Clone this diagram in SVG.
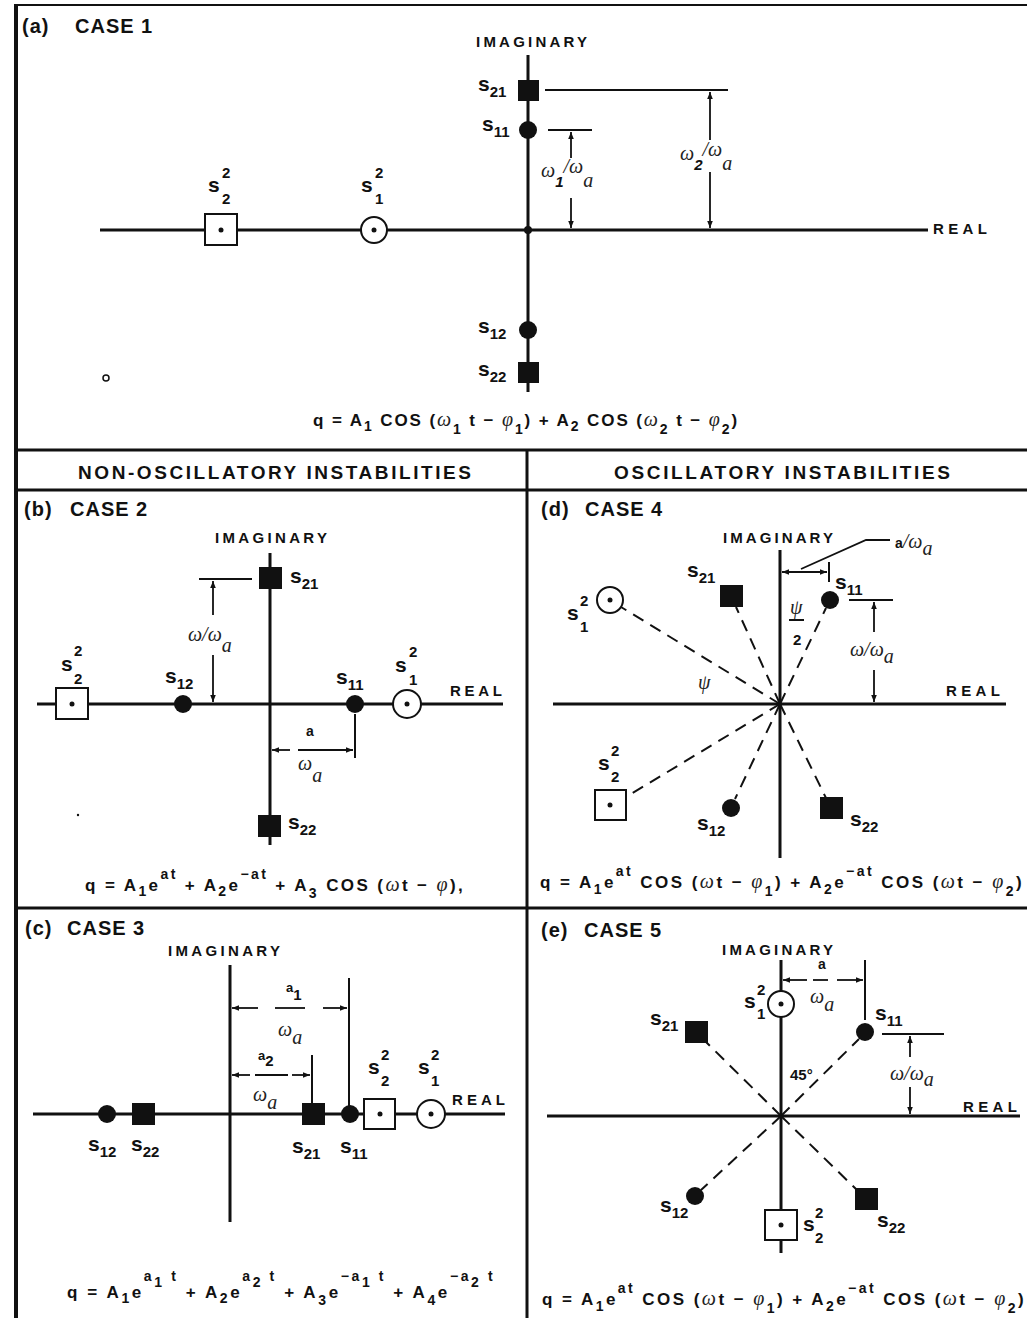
<svg xmlns="http://www.w3.org/2000/svg" width="1027" height="1318" viewBox="0 0 1027 1318">
<style>
.f{font-family:"Liberation Sans",Arial,sans-serif;font-weight:bold;fill:#111}
.ti{font-size:20px;letter-spacing:1px}
.hd{font-size:19px}
.ax{font-size:15px}
.ps{font-size:21px}
.pd{font-size:15px}
.g{font-family:"Liberation Serif","DejaVu Serif",serif;font-style:italic;font-weight:normal;font-size:20px;fill:#222}
.eq{font-size:17px}
.es{font-size:14px}
.ln{stroke:#111;stroke-width:3;fill:none}
.th{stroke:#111;stroke-width:2;fill:none}
.dm{stroke:#111;stroke-width:1.8;fill:none}
.da{stroke:#111;stroke-width:2;fill:none;stroke-dasharray:12 8}
.fl{fill:#111}
.op{fill:#fff;stroke:#111;stroke-width:2}
</style>
<defs>
<marker id="ah" viewBox="0 0 10 10" refX="10" refY="5" markerWidth="7" markerHeight="7" markerUnits="userSpaceOnUse" orient="auto-start-reverse"><path d="M0,1 L10,5 L0,9 z" fill="#111"/></marker>
</defs>
<rect width="1027" height="1318" fill="#fff"/>

<g id="frame">
<line class="th" x1="15" y1="5" x2="1027" y2="5"/>
<line x1="16" y1="4" x2="16" y2="1318" stroke="#111" stroke-width="4"/>
<line class="ln" x1="15" y1="450" x2="1027" y2="450"/>
<line class="ln" x1="15" y1="490" x2="1027" y2="490"/>
<line class="ln" x1="527" y1="450" x2="527" y2="1318"/>
<line class="ln" x1="15" y1="908" x2="1027" y2="908"/>
</g>

<g id="titles">
<text class="f ti" x="22" y="33">(a)<tspan x="75">CASE 1</tspan></text>
<text class="f hd" x="78" y="479" textLength="393" lengthAdjust="spacing">NON-OSCILLATORY INSTABILITIES</text>
<text class="f hd" x="614" y="479" textLength="336" lengthAdjust="spacing">OSCILLATORY INSTABILITIES</text>
<text class="f ti" x="24" y="516">(b)<tspan x="70">CASE 2</tspan></text>
<text class="f ti" x="25" y="935">(c)<tspan x="67">CASE 3</tspan></text>
<text class="f ti" x="541" y="516">(d)<tspan x="585">CASE 4</tspan></text>
<text class="f ti" x="541" y="937">(e)<tspan x="584">CASE 5</tspan></text>
</g>

<!-- ================= PANEL A ================= -->
<g id="a-connectors">
<line class="ln" x1="528" y1="55" x2="528" y2="392"/>
<line class="ln" x1="100" y1="230" x2="928" y2="230"/>
<circle cx="528" cy="230" r="4" class="fl"/>
<line class="th" x1="545" y1="90" x2="728" y2="90"/>
<line class="th" x1="548" y1="130" x2="592" y2="130"/>
<line class="dm" x1="571" y1="158" x2="571" y2="132" marker-end="url(#ah)"/>
<line class="dm" x1="571" y1="198" x2="571" y2="228" marker-end="url(#ah)"/>
<line class="dm" x1="710" y1="140" x2="710" y2="92" marker-end="url(#ah)"/>
<line class="dm" x1="710" y1="172" x2="710" y2="228" marker-end="url(#ah)"/>
</g>
<g id="a-labels">
<text class="f ax" x="476" y="47" textLength="111" lengthAdjust="spacing">IMAGINARY</text>
<text class="f ax" x="933" y="234" textLength="54" lengthAdjust="spacing">REAL</text>
<text class="g" x="541" y="177">ω<tspan class="f pd" dy="10">1</tspan><tspan dy="-14">/ω</tspan><tspan dy="14">a</tspan></text>
<text class="g" x="680" y="160">ω<tspan class="f pd" dy="10">2</tspan><tspan dy="-14">/ω</tspan><tspan dy="14">a</tspan></text>
<text class="f eq" x="313" y="426" style="letter-spacing:1.9px">q = A<tspan class="es" dy="5">1</tspan><tspan dy="-5"> COS (</tspan><tspan class="g">ω</tspan><tspan class="es" dy="8">1</tspan><tspan dy="-8"> t − </tspan><tspan class="g">φ</tspan><tspan class="es" dy="8">1</tspan><tspan dy="-8">) + A</tspan><tspan class="es" dy="5">2</tspan><tspan dy="-5"> COS (</tspan><tspan class="g">ω</tspan><tspan class="es" dy="8">2</tspan><tspan dy="-8"> t − </tspan><tspan class="g">φ</tspan><tspan class="es" dy="8">2</tspan><tspan dy="-8">)</tspan></text>
</g>
<g id="a-s21"><rect class="fl" x="518" y="80" width="21" height="21"/><text class="f ps" x="478" y="91">s<tspan class="pd" dy="6">21</tspan></text></g>
<g id="a-s11"><circle class="fl" cx="528" cy="130" r="9"/><text class="f ps" x="482" y="131">s<tspan class="pd" dy="6">11</tspan></text></g>
<g id="a-s12"><circle class="fl" cx="528" cy="330" r="9"/><text class="f ps" x="478" y="333">s<tspan class="pd" dy="6">12</tspan></text></g>
<g id="a-s22"><rect class="fl" x="518" y="362" width="21" height="21"/><text class="f ps" x="478" y="376">s<tspan class="pd" dy="6">22</tspan></text></g>
<g id="a-s2sq"><rect class="op" x="205" y="214" width="32" height="31"/><circle class="fl" cx="221" cy="230" r="2.5"/><text class="f ps" x="208" y="192">s<tspan class="pd" x="222" y="178">2</tspan><tspan class="pd" x="222" y="204">2</tspan></text></g>
<g id="a-s1sq"><circle class="op" cx="374" cy="230" r="13"/><circle class="fl" cx="374" cy="230" r="2.5"/><text class="f ps" x="361" y="192">s<tspan class="pd" x="375" y="178">2</tspan><tspan class="pd" x="375" y="204">1</tspan></text></g>
<circle cx="106" cy="378" r="3" fill="none" stroke="#111" stroke-width="1.5"/>

<!-- ================= PANEL B ================= -->
<g id="b-connectors">
<line class="ln" x1="270" y1="553" x2="270" y2="845"/>
<line class="ln" x1="37" y1="704" x2="503" y2="704"/>
<line class="th" x1="199" y1="579" x2="252" y2="579"/>
<line class="dm" x1="213" y1="615" x2="213" y2="581" marker-end="url(#ah)"/>
<line class="dm" x1="213" y1="655" x2="213" y2="702" marker-end="url(#ah)"/>
<line class="th" x1="355" y1="714" x2="355" y2="758"/>
<line class="dm" x1="290" y1="750" x2="272" y2="750" marker-end="url(#ah)"/>
<line class="dm" x1="298" y1="750" x2="353" y2="750" marker-end="url(#ah)"/>
</g>
<g id="b-labels">
<text class="f ax" x="215" y="543" textLength="112" lengthAdjust="spacing">IMAGINARY</text>
<text class="f ax" x="450" y="696" textLength="52" lengthAdjust="spacing">REAL</text>
<text class="g" x="188" y="641">ω/ω<tspan dy="11">a</tspan></text>
<text class="f" x="306" y="736" font-size="14">a</text>
<text class="g" x="298" y="770">ω<tspan dy="12">a</tspan></text>
<text class="f eq" x="85" y="891" style="letter-spacing:2.4px">q = A<tspan class="es" dy="5">1</tspan><tspan dy="-5">e</tspan><tspan class="es" dy="-12">at</tspan><tspan dy="12"> + A</tspan><tspan class="es" dy="5">2</tspan><tspan dy="-5">e</tspan><tspan class="es" dy="-12">−at</tspan><tspan dy="12"> + A</tspan><tspan class="es" dy="7">3</tspan><tspan dy="-7"> COS (</tspan><tspan class="g">ω</tspan><tspan>t − </tspan><tspan class="g">φ</tspan><tspan>),</tspan></text>
</g>
<g id="b-s21"><rect class="fl" x="259" y="567" width="23" height="22"/><text class="f ps" x="290" y="583">s<tspan class="pd" dy="6">21</tspan></text></g>
<g id="b-s22"><rect class="fl" x="258" y="815" width="23" height="22"/><text class="f ps" x="288" y="829">s<tspan class="pd" dy="6">22</tspan></text></g>
<g id="b-s12"><circle class="fl" cx="183" cy="704" r="9"/><text class="f ps" x="165" y="683">s<tspan class="pd" dy="6">12</tspan></text></g>
<g id="b-s11"><circle class="fl" cx="355" cy="704" r="9"/><text class="f ps" x="336" y="684">s<tspan class="pd" dy="6">11</tspan></text></g>
<g id="b-s2sq"><rect class="op" x="56" y="688" width="32" height="31"/><circle class="fl" cx="72" cy="704" r="2.5"/><text class="f ps" x="61" y="671">s<tspan class="pd" x="74" y="656">2</tspan><tspan class="pd" x="74" y="684">2</tspan></text></g>
<g id="b-s1sq"><circle class="op" cx="407" cy="704" r="14"/><circle class="fl" cx="407" cy="704" r="2.5"/><text class="f ps" x="395" y="672">s<tspan class="pd" x="409" y="657">2</tspan><tspan class="pd" x="409" y="685">1</tspan></text></g>
<circle cx="78" cy="815" r="1.2" class="fl"/>

<!-- ================= PANEL C ================= -->
<g id="c-connectors">
<line class="ln" x1="230" y1="965" x2="230" y2="1222"/>
<line class="ln" x1="33" y1="1114" x2="505" y2="1114"/>
<line class="th" x1="349" y1="978" x2="349" y2="1106"/>
<line class="th" x1="312" y1="1055" x2="312" y2="1104"/>
<line class="dm" x1="258" y1="1008" x2="232" y2="1008" marker-end="url(#ah)"/>
<line class="dm" x1="275" y1="1008" x2="305" y2="1008"/>
<line class="dm" x1="323" y1="1008" x2="347" y2="1008" marker-end="url(#ah)"/>
<line class="dm" x1="250" y1="1075" x2="232" y2="1075" marker-end="url(#ah)"/>
<line class="dm" x1="255" y1="1075" x2="288" y2="1075"/>
<line class="dm" x1="292" y1="1075" x2="310" y2="1075" marker-end="url(#ah)"/>
</g>
<g id="c-labels">
<text class="f ax" x="168" y="956" textLength="112" lengthAdjust="spacing">IMAGINARY</text>
<text class="f ax" x="452" y="1105" textLength="53" lengthAdjust="spacing">REAL</text>
<text class="f" x="286" y="992" font-size="13">a<tspan font-size="15" dy="8">1</tspan></text>
<text class="g" x="278" y="1036">ω<tspan dy="8">a</tspan></text>
<text class="f" x="258" y="1060" font-size="13">a<tspan font-size="15" dy="6">2</tspan></text>
<text class="g" x="253" y="1101">ω<tspan dy="8">a</tspan></text>
<text class="f eq" x="67" y="1298" style="letter-spacing:2.6px">q = A<tspan class="es" dy="5">1</tspan><tspan dy="-5">e</tspan><tspan class="es" dy="-17">a</tspan><tspan class="es" dy="6">1</tspan><tspan class="es" dy="-6"> t</tspan><tspan dy="17"> + A</tspan><tspan class="es" dy="5">2</tspan><tspan dy="-5">e</tspan><tspan class="es" dy="-17">a</tspan><tspan class="es" dy="6">2</tspan><tspan class="es" dy="-6"> t</tspan><tspan dy="17"> + A</tspan><tspan class="es" dy="7">3</tspan><tspan dy="-7">e</tspan><tspan class="es" dy="-17">−a</tspan><tspan class="es" dy="6">1</tspan><tspan class="es" dy="-6"> t</tspan><tspan dy="17"> + A</tspan><tspan class="es" dy="7">4</tspan><tspan dy="-7">e</tspan><tspan class="es" dy="-17">−a</tspan><tspan class="es" dy="6">2</tspan><tspan class="es" dy="-6"> t</tspan></text>
</g>
<g id="c-s12"><circle class="fl" cx="107" cy="1114" r="9"/><text class="f ps" x="88" y="1151">s<tspan class="pd" dy="6">12</tspan></text></g>
<g id="c-s22"><rect class="fl" x="132" y="1103" width="23" height="22"/><text class="f ps" x="131" y="1151">s<tspan class="pd" dy="6">22</tspan></text></g>
<g id="c-s21"><rect class="fl" x="302" y="1103" width="23" height="22"/><text class="f ps" x="292" y="1153">s<tspan class="pd" dy="6">21</tspan></text></g>
<g id="c-s11"><circle class="fl" cx="350" cy="1114" r="9"/><text class="f ps" x="340" y="1153">s<tspan class="pd" dy="6">11</tspan></text></g>
<g id="c-s2sq"><rect class="op" x="364" y="1099" width="31" height="30"/><circle class="fl" cx="380" cy="1114" r="2.5"/><text class="f ps" x="368" y="1074">s<tspan class="pd" x="381" y="1060">2</tspan><tspan class="pd" x="381" y="1086">2</tspan></text></g>
<g id="c-s1sq"><circle class="op" cx="431" cy="1114" r="14"/><circle class="fl" cx="431" cy="1114" r="2.5"/><text class="f ps" x="418" y="1074">s<tspan class="pd" x="431" y="1060">2</tspan><tspan class="pd" x="431" y="1086">1</tspan></text></g>

<!-- ================= PANEL D ================= -->
<g id="d-connectors">
<line class="ln" x1="780" y1="550" x2="780" y2="858"/>
<line class="ln" x1="553" y1="704" x2="1006" y2="704"/>
<line class="da" x1="780" y1="704" x2="621" y2="607"/>
<line class="da" x1="780" y1="704" x2="736" y2="607"/>
<line class="da" x1="780" y1="704" x2="826" y2="608"/>
<line class="da" x1="780" y1="704" x2="626" y2="797"/>
<line class="da" x1="780" y1="704" x2="735" y2="799"/>
<line class="da" x1="780" y1="704" x2="826" y2="798"/>
<line class="th" x1="829" y1="562" x2="829" y2="582"/>
<line class="dm" x1="782" y1="572" x2="827" y2="572" marker-start="url(#ah)" marker-end="url(#ah)"/>
<polyline class="dm" points="801,569 866,540 890,540"/>
<line class="th" x1="849" y1="600" x2="893" y2="600"/>
<line class="dm" x1="874" y1="632" x2="874" y2="602" marker-end="url(#ah)"/>
<line class="dm" x1="874" y1="670" x2="874" y2="702" marker-end="url(#ah)"/>
<line class="th" x1="789" y1="620" x2="804" y2="620"/>
</g>
<g id="d-labels">
<text class="f ax" x="723" y="543" textLength="110" lengthAdjust="spacing">IMAGINARY</text>
<text class="f ax" x="946" y="696" textLength="54" lengthAdjust="spacing">REAL</text>
<text class="f" x="895" y="548" font-size="14">a<tspan class="g">/ω</tspan><tspan class="g" dy="7">a</tspan></text>
<text class="g" x="790" y="614">ψ</text>
<text class="f" x="793" y="645" font-size="15">2</text>
<text class="g" x="850" y="656">ω/ω<tspan dy="7">a</tspan></text>
<text class="g" x="698" y="689">ψ</text>
<text class="f eq" x="540" y="888" style="letter-spacing:2.45px">q = A<tspan class="es" dy="6">1</tspan><tspan dy="-6">e</tspan><tspan class="es" dy="-12">at</tspan><tspan dy="12"> COS (</tspan><tspan class="g">ω</tspan><tspan>t − </tspan><tspan class="g">φ</tspan><tspan class="es" dy="8">1</tspan><tspan dy="-8">) + A</tspan><tspan class="es" dy="6">2</tspan><tspan dy="-6">e</tspan><tspan class="es" dy="-12">−at</tspan><tspan dy="12"> COS (</tspan><tspan class="g">ω</tspan><tspan>t − </tspan><tspan class="g">φ</tspan><tspan class="es" dy="8">2</tspan><tspan dy="-8">)</tspan></text>
</g>
<g id="d-s1sq"><circle class="op" cx="610" cy="600" r="13"/><circle class="fl" cx="610" cy="600" r="2.5"/><text class="f ps" x="567" y="620">s<tspan class="pd" x="580" y="606">2</tspan><tspan class="pd" x="580" y="632">1</tspan></text></g>
<g id="d-s21"><rect class="fl" x="720" y="585" width="23" height="22"/><text class="f ps" x="687" y="577">s<tspan class="pd" dy="6">21</tspan></text></g>
<g id="d-s11"><circle class="fl" cx="830" cy="600" r="9"/><text class="f ps" x="835" y="589">s<tspan class="pd" dy="6">11</tspan></text></g>
<g id="d-s2sq"><rect class="op" x="595" y="790" width="31" height="30"/><circle class="fl" cx="610" cy="805" r="2.5"/><text class="f ps" x="598" y="770">s<tspan class="pd" x="611" y="756">2</tspan><tspan class="pd" x="611" y="782">2</tspan></text></g>
<g id="d-s12"><circle class="fl" cx="731" cy="808" r="9"/><text class="f ps" x="697" y="830">s<tspan class="pd" dy="6">12</tspan></text></g>
<g id="d-s22"><rect class="fl" x="820" y="797" width="23" height="22"/><text class="f ps" x="850" y="826">s<tspan class="pd" dy="6">22</tspan></text></g>

<!-- ================= PANEL E ================= -->
<g id="e-connectors">
<line class="ln" x1="781" y1="960" x2="781" y2="1253"/>
<line class="ln" x1="547" y1="1116" x2="1020" y2="1116"/>
<line class="da" x1="781" y1="1116" x2="705" y2="1041"/>
<line class="da" x1="781" y1="1116" x2="859" y2="1039"/>
<line class="da" x1="781" y1="1116" x2="701" y2="1190"/>
<line class="da" x1="781" y1="1116" x2="857" y2="1190"/>
<line class="th" x1="865" y1="960" x2="865" y2="1020"/>
<line class="dm" x1="807" y1="980" x2="783" y2="980" marker-end="url(#ah)"/>
<line class="dm" x1="813" y1="980" x2="828" y2="980"/>
<line class="dm" x1="837" y1="980" x2="863" y2="980" marker-end="url(#ah)"/>
<line class="th" x1="882" y1="1034" x2="944" y2="1034"/>
<line class="dm" x1="910" y1="1057" x2="910" y2="1036" marker-end="url(#ah)"/>
<line class="dm" x1="910" y1="1087" x2="910" y2="1114" marker-end="url(#ah)"/>
</g>
<g id="e-labels">
<text class="f ax" x="722" y="955" textLength="111" lengthAdjust="spacing">IMAGINARY</text>
<text class="f ax" x="963" y="1112" textLength="54" lengthAdjust="spacing">REAL</text>
<text class="f" x="818" y="969" font-size="14">a</text>
<text class="g" x="810" y="1003">ω<tspan dy="8">a</tspan></text>
<text class="g" x="890" y="1080">ω/ω<tspan dy="6">a</tspan></text>
<text class="f" x="790" y="1080" font-size="15">45°</text>
<text class="f eq" x="542" y="1305" style="letter-spacing:2.45px">q = A<tspan class="es" dy="6">1</tspan><tspan dy="-6">e</tspan><tspan class="es" dy="-12">at</tspan><tspan dy="12"> COS (</tspan><tspan class="g">ω</tspan><tspan>t − </tspan><tspan class="g">φ</tspan><tspan class="es" dy="8">1</tspan><tspan dy="-8">) + A</tspan><tspan class="es" dy="6">2</tspan><tspan dy="-6">e</tspan><tspan class="es" dy="-12">−at</tspan><tspan dy="12"> COS (</tspan><tspan class="g">ω</tspan><tspan>t − </tspan><tspan class="g">φ</tspan><tspan class="es" dy="8">2</tspan><tspan dy="-8">)</tspan></text>
</g>
<g id="e-s1sq"><circle class="op" cx="781" cy="1004" r="13"/><circle class="fl" cx="781" cy="1004" r="2.5"/><text class="f ps" x="744" y="1008">s<tspan class="pd" x="757" y="995">2</tspan><tspan class="pd" x="757" y="1019">1</tspan></text></g>
<g id="e-s21"><rect class="fl" x="685" y="1021" width="23" height="22"/><text class="f ps" x="650" y="1025">s<tspan class="pd" dy="6">21</tspan></text></g>
<g id="e-s11"><circle class="fl" cx="865" cy="1032" r="9"/><text class="f ps" x="875" y="1020">s<tspan class="pd" dy="6">11</tspan></text></g>
<g id="e-s12"><circle class="fl" cx="695" cy="1196" r="9"/><text class="f ps" x="660" y="1212">s<tspan class="pd" dy="6">12</tspan></text></g>
<g id="e-s22"><rect class="fl" x="855" y="1188" width="23" height="22"/><text class="f ps" x="877" y="1227">s<tspan class="pd" dy="6">22</tspan></text></g>
<g id="e-s2sq"><rect class="op" x="765" y="1210" width="32" height="30"/><circle class="fl" cx="781" cy="1225" r="2.5"/><text class="f ps" x="803" y="1231">s<tspan class="pd" x="815" y="1218">2</tspan><tspan class="pd" x="815" y="1243">2</tspan></text></g>
</svg>
